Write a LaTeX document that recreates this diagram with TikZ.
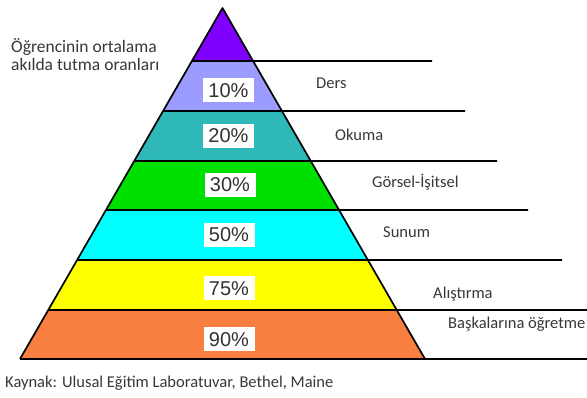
\documentclass[tikz,border=0pt]{standalone}
\usepackage{fontspec}
\setmainfont{Carlito}
\newfontfamily\arialfont{Liberation Sans}
\usetikzlibrary{calc}
\definecolor{cApex}{HTML}{7F00FF}
\definecolor{cTen}{HTML}{9C9CFF}
\definecolor{cTwenty}{HTML}{2EB8B8}
\definecolor{cThirty}{HTML}{00E000}
\definecolor{cFifty}{HTML}{00FFFF}
\definecolor{cSeventy}{HTML}{FFFF00}
\definecolor{cNinety}{HTML}{F97F40}
\definecolor{txtgray}{HTML}{383838}
\begin{document}
\begin{tikzpicture}[x=1pt,y=-1pt,
  rule/.style={draw=black, line width=1.7pt, line cap=butt},
  pct/.style={fill=white, inner sep=0pt, minimum width=51pt, minimum height=24pt,
    font=\arialfont\fontsize{20}{20}\selectfont, text=black!80},
  lbl/.style={anchor=west, inner sep=0pt, font=\fontsize{16.5}{16.5}\selectfont, text=txtgray}]
\useasboundingbox (0,0) rectangle (587,398);
\fill[white] (0,0) rectangle (587,398);
\coordinate (A) at (222.5,8);
\coordinate (BL) at (20,359);
\coordinate (BR) at (425,359);
\foreach \n/\t in {1/0.151,2/0.2934,3/0.4359,4/0.5755,5/0.7179,6/0.8604,7/1}{
  \coordinate (L\n) at ($(A)!\t!(BL)$);
  \coordinate (R\n) at ($(A)!\t!(BR)$);
}
\coordinate (E1) at (432,61);
\coordinate (E2) at (465,111);
\coordinate (E3) at (497,161);
\coordinate (E4) at (528,210);
\coordinate (E5) at (562,260);
\coordinate (E6) at (587,310);
\coordinate (E7) at (587,359);
% bands
\fill[cApex] (A) -- (L1) -- (R1) -- cycle;
\fill[cTen] (L1) -- (L2) -- (R2) -- (R1) -- cycle;
\fill[cTwenty] (L2) -- (L3) -- (R3) -- (R2) -- cycle;
\fill[cThirty] (L3) -- (L4) -- (R4) -- (R3) -- cycle;
\fill[cFifty] (L4) -- (L5) -- (R5) -- (R4) -- cycle;
\fill[cSeventy] (L5) -- (L6) -- (R6) -- (R5) -- cycle;
\fill[cNinety] (L6) -- (L7) -- (R7) -- (R6) -- cycle;
% outline
\draw[rule, line join=round] (BL) -- (A) -- (BR);
\foreach \n in {1,...,7}{
  \draw[rule] (L\n) -- (E\n);
}
% percentages
\node[pct] (p10) at (228.5,90.5) {10\%};
\node[pct] (p20) at (228.5,136) {20\%};
\node[pct] (p30) at (230,185) {30\%};
\node[pct] (p50) at (229,235) {50\%};
\node[pct] (p75) at (229,288.5) {75\%};
\node[pct] (p90) at (229,339.5) {90\%};
% labels
\node[lbl] (ders) at (316,83) {Ders};
\node[lbl] (okuma) at (335,135) {Okuma};
\node[lbl] (gorsel) at (372,182) {Görsel-İşitsel};
\node[lbl] (sunum) at (383,232) {Sunum};
\node[lbl] (alis) at (433,294) {Alıştırma};
\node[lbl] (bask) at (448,324) {Başkalarına öğretme};
\node[anchor=north west, inner sep=0pt, align=left, font=\fontsize{17.5}{18.5}\selectfont, text=txtgray] (title) at (11,38) {Öğrencinin ortalama\\akılda tutma oranları};
\node[lbl] (kaynak) at (5,383) {Kaynak: Ulusal Eğitim Laboratuvar, Bethel, Maine};
\end{tikzpicture}
\end{document}
